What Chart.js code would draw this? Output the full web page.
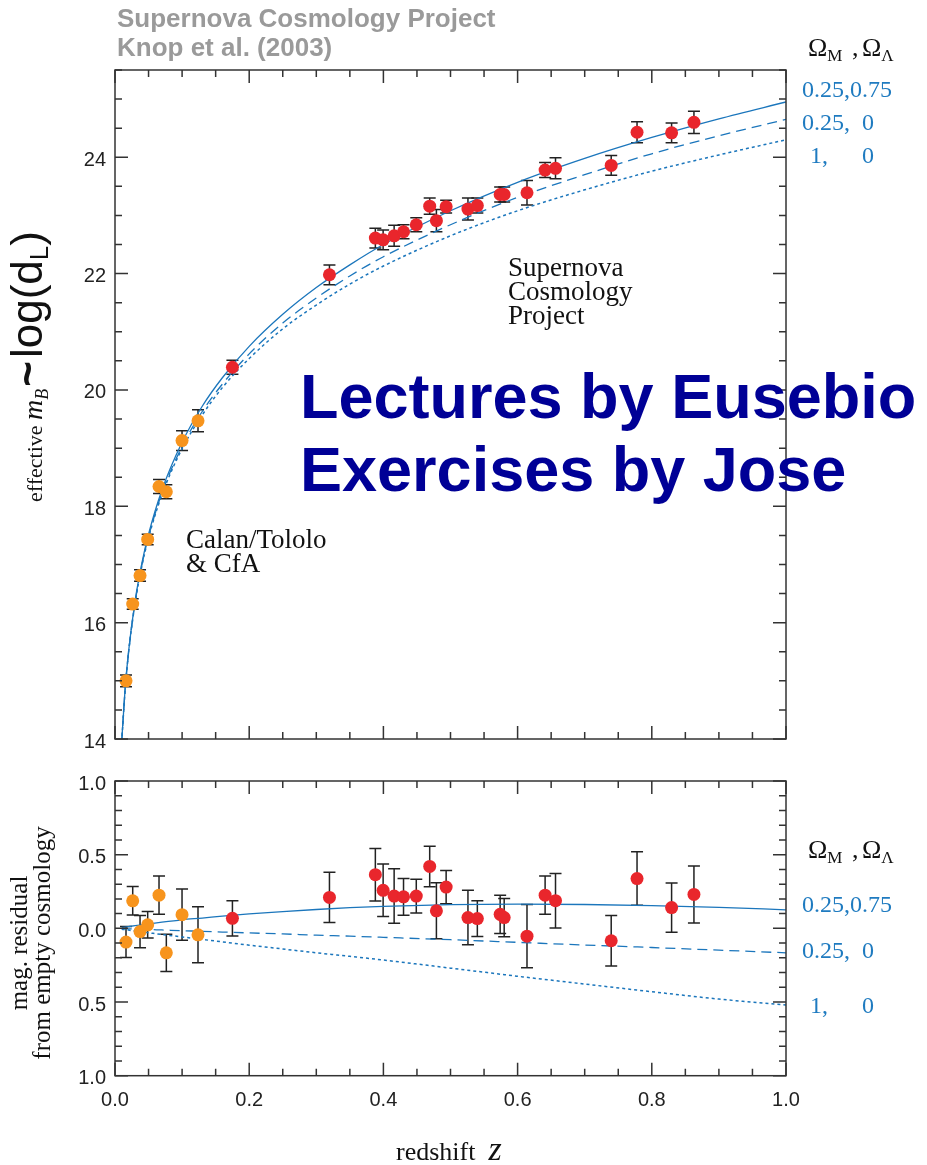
<!DOCTYPE html>
<html>
<head>
<meta charset="utf-8">
<script src="https://cdn.jsdelivr.net/npm/chart.js@4.4.1/dist/chart.umd.min.js"></script>
<style>
  body { margin: 0; background: #fff; }
  #wrap { position: relative; width: 927px; height: 1165px; }
  #topBox { position: absolute; left: 0; top: 0; width: 927px; height: 760px; }
  #botBox { position: absolute; left: 0; top: 760px; width: 927px; height: 405px; }
</style>
</head>
<body>
<div id="wrap">
  <div id="topBox"><canvas id="hubble"></canvas></div>
  <div id="botBox"><canvas id="resid"></canvas></div>
</div>
<script>
// Calan/Tololo + CfA nearby supernovae
const lowZ = [0.0164, 0.0264, 0.0373, 0.0487, 0.0656, 0.0765, 0.0999, 0.1237];
const lowMag = [15.00, 16.32, 16.81, 17.43, 18.34, 18.25, 19.13, 19.47];
const lowMagErr = [0.10, 0.09, 0.10, 0.09, 0.12, 0.12, 0.17, 0.19];
const lowRes = [-0.093, 0.187, -0.022, 0.024, 0.225, -0.166, 0.093, -0.044];
const lowResErr = [0.105, 0.097, 0.11, 0.09, 0.13, 0.126, 0.174, 0.19];

// Supernova Cosmology Project high-z sample
const highZ = [0.175, 0.3196, 0.388, 0.3996, 0.416, 0.430, 0.449, 0.469, 0.479, 0.4935, 0.526,
               0.540, 0.574, 0.580, 0.614, 0.641, 0.6565, 0.7395, 0.778, 0.8295, 0.8628];
const highMag = [20.39, 21.98, 22.61, 22.58, 22.65, 22.72, 22.84, 23.16, 22.91, 23.15, 23.11,
                 23.17, 23.36, 23.36, 23.39, 23.78, 23.81, 23.86, 24.43, 24.42, 24.60];
const highMagErr = [0.12, 0.17, 0.17, 0.17, 0.18, 0.12, 0.12, 0.14, 0.19, 0.11, 0.19,
                    0.13, 0.13, 0.13, 0.21, 0.13, 0.18, 0.17, 0.18, 0.17, 0.19];
const highRes = [0.068, 0.21, 0.364, 0.258, 0.219, 0.214, 0.219, 0.42, 0.119, 0.28, 0.073,
                 0.066, 0.095, 0.073, -0.053, 0.225, 0.188, -0.084, 0.338, 0.141, 0.23];
const highResErr = [0.12, 0.17, 0.178, 0.178, 0.185, 0.125, 0.115, 0.137, 0.19, 0.113, 0.185,
                    0.122, 0.13, 0.13, 0.215, 0.13, 0.185, 0.172, 0.182, 0.167, 0.193];

// model curves: (0.25,0.75), (0.25,0), (1,0)
const curveZ = [0.01, 0.015, 0.02, 0.03, 0.04, 0.05, 0.07, 0.1, 0.13, 0.16, 0.2,
                0.25, 0.3, 0.35, 0.4, 0.5, 0.6, 0.7, 0.8, 0.9, 1.0];
const magLambda = [13.96, 14.85, 15.48, 16.38, 17.02, 17.52, 18.28, 19.10, 19.72, 20.21, 20.75,
                   21.30, 21.76, 22.15, 22.50, 23.08, 23.57, 23.98, 24.34, 24.66, 24.95];
const magOpen = [13.95, 14.84, 15.46, 16.35, 16.99, 17.48, 18.23, 19.03, 19.63, 20.10, 20.62,
                 21.15, 21.58, 21.96, 22.29, 22.84, 23.31, 23.70, 24.06, 24.37, 24.65];
const magFlat = [13.95, 14.83, 15.46, 16.34, 16.97, 17.46, 18.20, 18.99, 19.57, 20.04, 20.54,
                 21.05, 21.46, 21.82, 22.13, 22.65, 23.08, 23.44, 23.76, 24.04, 24.30];
const resLambda = [0.006, 0.009, 0.012, 0.018, 0.024, 0.03, 0.042, 0.058, 0.07, 0.083, 0.098,
                   0.114, 0.128, 0.14, 0.149, 0.161, 0.165, 0.162, 0.154, 0.142, 0.126];
const resOpen = [-0.002, -0.002, -0.003, -0.005, -0.006, -0.008, -0.011, -0.016, -0.02, -0.025, -0.031,
                 -0.038, -0.046, -0.053, -0.061, -0.077, -0.095, -0.113, -0.13, -0.148, -0.166];
const resFlat = [-0.006, -0.009, -0.012, -0.018, -0.024, -0.03, -0.042, -0.058, -0.075, -0.092, -0.114,
                 -0.14, -0.166, -0.19, -0.215, -0.27, -0.325, -0.378, -0.43, -0.48, -0.52];

// tick labels
const zTicks = [0, 0.2, 0.4, 0.6, 0.8, 1.0];
const magTicks = [14, 16, 18, 20, 22, 24];
const resTicks = [-1, -0.5, 0, 0.5, 1];

const SANS = '"Liberation Sans", Arial, Helvetica, sans-serif';
const SERIF = '"Liberation Serif", "Times New Roman", serif';
const BLUE = '#1b76bc';
const TXT_BLUE = '#1f7bc0';

const pts = (xs, ys) => xs.map((x, i) => ({ x: x, y: ys[i] }));

function drawRuns(ctx, x, y, runs) {
    runs.forEach(r => {
        ctx.font = r.font;
        ctx.fillStyle = r.color || '#111';
        ctx.fillText(r.text, x, y + (r.dy || 0));
        x += ctx.measureText(r.text).width + (r.gap || 0);
    });
    return x;
}

// error bars with caps, under the markers
const errorBars = {
    id: 'errorBars',
    beforeDatasetsDraw(chart) {
        const { ctx, scales: { x, y } } = chart;
        ctx.save();
        ctx.strokeStyle = '#222';
        ctx.lineWidth = 1.5;
        chart.data.datasets.forEach(ds => {
            if (!ds.errors) return;
            ds.data.forEach((p, i) => {
                const px = x.getPixelForValue(p.x);
                const y1 = y.getPixelForValue(p.y - ds.errors[i]);
                const y2 = y.getPixelForValue(p.y + ds.errors[i]);
                ctx.beginPath();
                ctx.moveTo(px, y1); ctx.lineTo(px, y2);
                ctx.moveTo(px - 6, y1); ctx.lineTo(px + 6, y1);
                ctx.moveTo(px - 6, y2); ctx.lineTo(px + 6, y2);
                ctx.stroke();
            });
        });
        ctx.restore();
    }
};

// box frame with inward ticks on all four sides
const frameTicks = {
    id: 'frameTicks',
    afterDatasetsDraw(chart, args, opts) {
        const { ctx, chartArea: a, scales: { x, y } } = chart;
        const values = (min, max, step) => {
            const n = Math.round((max - min) / step);
            const out = [];
            for (let k = 0; k <= n; k++) out.push(min + k * step);
            return out;
        };
        const isMajor = (v, step) => Math.abs(v / step - Math.round(v / step)) < 1e-6;
        ctx.save();
        ctx.strokeStyle = '#333';
        ctx.lineWidth = 1.5;
        ctx.strokeRect(a.left, a.top, a.right - a.left, a.bottom - a.top);
        ctx.beginPath();
        values(x.min, x.max, opts.xMinor).forEach(v => {
            const len = isMajor(v, opts.xMajor) ? 13 : 7;
            const px = x.getPixelForValue(v);
            ctx.moveTo(px, a.bottom); ctx.lineTo(px, a.bottom - len);
            ctx.moveTo(px, a.top); ctx.lineTo(px, a.top + len);
        });
        values(y.min, y.max, opts.yMinor).forEach(v => {
            const len = isMajor(v, opts.yMajor) ? 13 : 7;
            const py = y.getPixelForValue(v);
            ctx.moveTo(a.left, py); ctx.lineTo(a.left + len, py);
            ctx.moveTo(a.right, py); ctx.lineTo(a.right - len, py);
        });
        ctx.stroke();
        ctx.restore();
    }
};

function omegaHeader(ctx, y) {
    drawRuns(ctx, 808, y, [
        { text: 'Ω', font: '26px ' + SERIF },
        { text: 'M', font: '17px ' + SERIF, dy: 5 }
    ]);
    drawRuns(ctx, 852, y, [{ text: ',', font: '26px ' + SERIF }]);
    drawRuns(ctx, 862, y, [
        { text: 'Ω', font: '26px ' + SERIF },
        { text: 'Λ', font: '17px ' + SERIF, dy: 5 }
    ]);
}

function modelLabels(ctx, y1, y2, y3) {
    ctx.font = '24px ' + SERIF;
    ctx.fillStyle = TXT_BLUE;
    ctx.fillText('0.25,0.75', 802, y1);
    ctx.fillText('0.25,', 802, y2);
    ctx.fillText('0', 862, y2);
    ctx.fillText('1,', 810, y3);
    ctx.fillText('0', 862, y3);
}

const hubbleText = {
    id: 'hubbleText',
    afterDraw(chart) {
        const ctx = chart.ctx;
        ctx.save();
        ctx.textAlign = 'left';
        ctx.textBaseline = 'alphabetic';

        ctx.font = 'bold 26px ' + SANS;
        ctx.fillStyle = '#9a9a9a';
        ctx.fillText('Supernova Cosmology Project', 117, 27);
        ctx.fillText('Knop et al. (2003)', 117, 56);

        omegaHeader(ctx, 56);
        modelLabels(ctx, 97, 130, 163);

        ctx.font = '27px ' + SERIF;
        ctx.fillStyle = '#111';
        ctx.fillText('Supernova', 508, 276);
        ctx.fillText('Cosmology', 508, 300);
        ctx.fillText('Project', 508, 324);
        ctx.fillText('Calan/Tololo', 186, 548);
        ctx.fillText('& CfA', 186, 572);

        // rotated y title
        ctx.save();
        ctx.translate(42, 502);
        ctx.rotate(-Math.PI / 2);
        drawRuns(ctx, 0, 0, [
            { text: 'effective ', font: '22px ' + SERIF },
            { text: 'm', font: 'italic 28px ' + SERIF },
            { text: 'B', font: 'italic 18px ' + SERIF, dy: 6, gap: 2 },
            { text: '~', font: 'bold 44px ' + SANS, gap: 3 },
            { text: 'log(d', font: '44px ' + SANS },
            { text: 'L', font: '26px ' + SANS, dy: 6 },
            { text: ')', font: '44px ' + SANS }
        ]);
        ctx.restore();

        ctx.font = 'bold 63px ' + SANS;
        ctx.fillStyle = '#000096';
        ctx.fillText('Lectures by Eusebio', 300, 418);
        ctx.fillText('Exercises by Jose', 300, 491);
        ctx.restore();
    }
};

const residText = {
    id: 'residText',
    afterDraw(chart) {
        const ctx = chart.ctx;
        ctx.save();
        ctx.textBaseline = 'alphabetic';
        omegaHeader(ctx, 98);
        modelLabels(ctx, 152, 198, 253);

        drawRuns(ctx, 396, 400, [
            { text: 'redshift  ', font: '26px ' + SERIF },
            { text: 'z', font: 'italic 34px ' + SERIF }
        ]);

        ctx.save();
        ctx.translate(0, 183);
        ctx.rotate(-Math.PI / 2);
        ctx.textAlign = 'center';
        ctx.font = '25px ' + SERIF;
        ctx.fillStyle = '#111';
        ctx.fillText('mag. residual', 0, 27);
        ctx.fillText('from empty cosmology', 0, 50);
        ctx.restore();
        ctx.restore();
    }
};

function lineSet(ys, dash, width) {
    return {
        type: 'scatter',
        data: pts(curveZ, ys),
        showLine: true,
        borderColor: BLUE,
        borderWidth: width,
        borderDash: dash,
        pointRadius: 0,
        cubicInterpolationMode: 'monotone'
    };
}

function pointSet(xs, ys, errs, color) {
    return {
        type: 'scatter',
        data: pts(xs, ys),
        errors: errs,
        showLine: false,
        pointRadius: 6.5,
        pointBorderWidth: 0,
        backgroundColor: color,
        borderColor: color
    };
}

function yScale(min, max, ticks, fmt) {
    return {
        type: 'linear', min: min, max: max,
        afterFit: s => { s.width = 115; },
        afterBuildTicks: s => { s.ticks = ticks.map(v => ({ value: v })); },
        grid: { display: false, drawTicks: false },
        border: { display: false },
        ticks: { padding: 9, labelOffset: 3, color: '#222', font: { family: SANS, size: 20 }, callback: fmt }
    };
}

new Chart(document.getElementById('hubble'), {
    type: 'scatter',
    data: {
        datasets: [
            pointSet(highZ, highMag, highMagErr, '#e9262c'),
            pointSet(lowZ, lowMag, lowMagErr, '#f7941d'),
            lineSet(magLambda, [], 1.3),
            lineSet(magOpen, [10, 6], 1.3),
            lineSet(magFlat, [3, 3], 1.5)
        ]
    },
    options: {
        responsive: true,
        maintainAspectRatio: false,
        animation: false,
        events: [],
        layout: { padding: { top: 70, right: 141, bottom: 19.3, left: 0 } },
        plugins: {
            legend: { display: false },
            tooltip: { enabled: false },
            frameTicks: { xMajor: 0.2, xMinor: 0.05, yMajor: 2, yMinor: 0.5 }
        },
        scales: {
            x: { type: 'linear', display: false, min: 0, max: 1 },
            y: yScale(14, 25.5, magTicks, v => String(v))
        }
    },
    plugins: [errorBars, frameTicks, hubbleText]
});

new Chart(document.getElementById('resid'), {
    type: 'scatter',
    data: {
        datasets: [
            pointSet(highZ, highRes, highResErr, '#e9262c'),
            pointSet(lowZ, lowRes, lowResErr, '#f7941d'),
            lineSet(resLambda, [], 1.3),
            lineSet(resOpen, [10, 6], 1.3),
            lineSet(resFlat, [3, 3], 1.5)
        ]
    },
    options: {
        responsive: true,
        maintainAspectRatio: false,
        animation: false,
        events: [],
        layout: { padding: { top: 14, right: 141, bottom: 0, left: 0 } },
        plugins: {
            legend: { display: false },
            tooltip: { enabled: false },
            frameTicks: { xMajor: 0.2, xMinor: 0.05, yMajor: 0.5, yMinor: 0.1 }
        },
        scales: {
            x: {
                type: 'linear', min: 0, max: 1,
                afterFit: s => { s.height = 405 - 315.7; },
                afterBuildTicks: s => { s.ticks = zTicks.map(v => ({ value: v })); },
                grid: { display: false, drawTicks: false },
                border: { display: false },
                ticks: { padding: 13, color: '#222', font: { family: SANS, size: 20 },
                         maxRotation: 0, callback: v => v.toFixed(1) }
            },
            y: yScale(-1, 1, resTicks, v => Math.abs(v).toFixed(1))
        }
    },
    plugins: [errorBars, frameTicks, residText]
});
</script>
</body>
</html>
